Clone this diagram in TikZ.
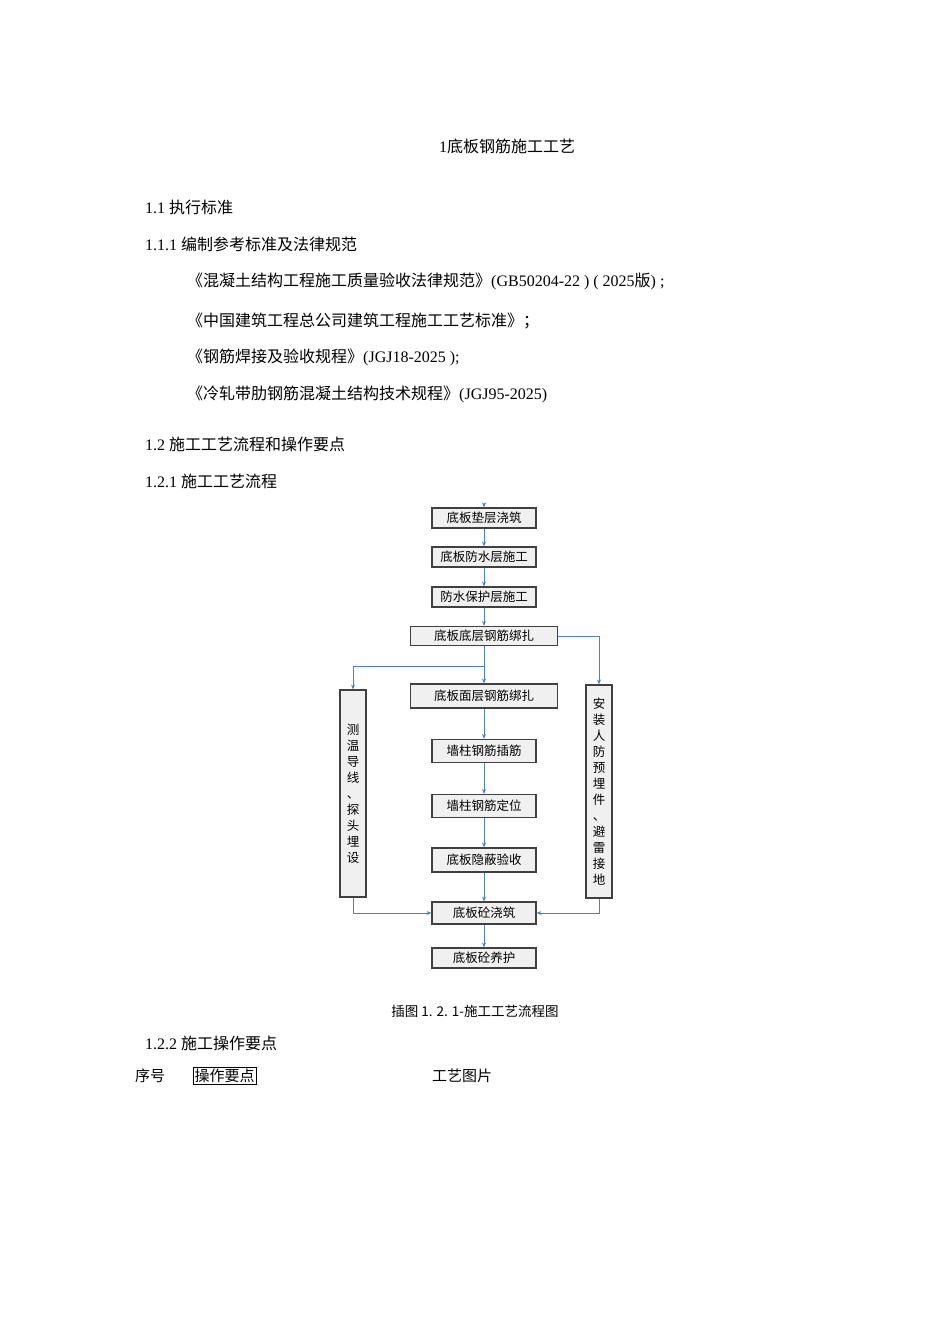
\documentclass[tikz,border=0pt]{standalone}
\usepackage{fontspec}
\setmainfont{Liberation Serif}
\newfontfamily\cjk{Noto Sans CJK SC}
\usetikzlibrary{arrows.meta}
\definecolor{ln}{HTML}{4F81BD}
\tikzset{
 txt/.style={anchor=west,inner sep=0,font=\fontsize{16}{18}\selectfont},
 fbox/.style={draw=black!75,fill=black!6,line width=1.1pt,inner sep=0,font=\cjk\fontsize{12.5}{14}\selectfont},
 arr/.style={draw=ln,line width=1pt,-{Stealth[length=5pt,width=4pt]}},
 ln/.style={draw=ln,line width=1pt}
}
\begin{document}
\begin{tikzpicture}[x=1pt,y=-1pt]
\useasboundingbox (0,0) rectangle (950,1344);
\node[txt,anchor=center] (t) at (507,146) {1{\cjk 底板钢筋施工工艺}};
\node[txt] (a) at (145,207) {1.1 {\cjk 执行标准}};
\node[txt] (b) at (145,244) {1.1.1 {\cjk 编制参考标准及法律规范}};
\node[txt] (c) at (187,281) {{\cjk 《混凝土结构工程施工质量验收法律规范》}(GB50204-22 ) ( 2025{\cjk 版}) ;};
\node[txt] (d) at (187,321) {{\cjk 《中国建筑工程总公司建筑工程施工工艺标准》；}};
\node[txt] (e) at (187,357) {{\cjk 《钢筋焊接及验收规程》}(JGJ18-2025 );};
\node[txt] (f) at (187,394) {{\cjk 《冷轧带肋钢筋混凝土结构技术规程》}(JGJ95-2025)};
\node[txt] (g) at (145,444) {1.2 {\cjk 施工工艺流程和操作要点}};
\node[txt] (h) at (145,481) {1.2.1 {\cjk 施工工艺流程}};

\node[fbox,minimum width=104,minimum height=20] (b1) at (484,518) {底板垫层浇筑};
\node[fbox,minimum width=104,minimum height=20] (b2) at (484,557) {底板防水层施工};
\node[fbox,minimum width=104,minimum height=20] (b3) at (484,597) {防水保护层施工};
\node[fbox,minimum width=147,minimum height=19] (b4) at (484,636) {底板底层钢筋绑扎};
\node[fbox,minimum width=147,minimum height=24] (b5) at (484,696) {底板面层钢筋绑扎};
\node[fbox,minimum width=104,minimum height=23] (b6) at (484,751) {墙柱钢筋插筋};
\node[fbox,minimum width=104,minimum height=23] (b7) at (484,806) {墙柱钢筋定位};
\node[fbox,minimum width=104,minimum height=24] (b8) at (484,860) {底板隐蔽验收};
\node[fbox,minimum width=104,minimum height=22] (b9) at (484,913) {底板砼浇筑};
\node[fbox,minimum width=104,minimum height=20] (b10) at (484,958) {底板砼养护};
\node[fbox,minimum width=26,minimum height=207,align=center,font=\cjk\fontsize{12.5}{16}\selectfont] (L) at (353,793.5) {测\\温\\导\\线\\、\\探\\头\\埋\\设};
\node[fbox,minimum width=26,minimum height=213,align=center,font=\cjk\fontsize{12.5}{16}\selectfont] (R) at (599,791.5) {安\\装\\人\\防\\预\\埋\\件\\、\\避\\雷\\接\\地};
\coordinate (top) at (484,503);
\draw[arr] (top) -- (b1);
\draw[arr] (b1) -- (b2);
\draw[arr] (b2) -- (b3);
\draw[arr] (b3) -- (b4);
\draw[arr] (b4) -- (b5);
\draw[arr] (b5) -- (b6);
\draw[arr] (b6) -- (b7);
\draw[arr] (b7) -- (b8);
\draw[arr] (b8) -- (b9);
\draw[arr] (b9) -- (b10);
\draw[arr] (b4.south) -- ++(0,20) -| (L.north);
\draw[arr] (b4.east) -| (R.north);
\draw[arr] (L.south) |- (b9.west);
\draw[arr] (R.south) |- (b9.east);

\node[inner sep=0,font=\cjk\fontsize{13.5}{15}\selectfont] (cap) at (475,1011) {插图 1. 2. 1-施工工艺流程图};
\node[txt] (i) at (145,1043) {1.2.2 {\cjk 施工操作要点}};
\node[txt,font=\cjk\fontsize{15}{17}\selectfont] (j) at (135,1076) {序号};
\node[txt,font=\cjk\fontsize{15}{17}\selectfont,draw,inner sep=1.5pt] (k) at (193,1076) {操作要点};
\node[txt,font=\cjk\fontsize{15}{17}\selectfont] (l) at (432,1076) {工艺图片};
\end{tikzpicture}
\end{document}
